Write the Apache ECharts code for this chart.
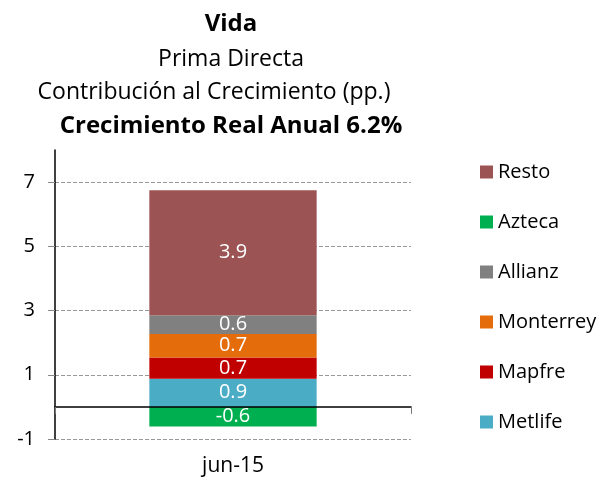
<!DOCTYPE html>
<html>
<head>
<meta charset="utf-8">
<script src="https://cdn.jsdelivr.net/npm/echarts@6/dist/echarts.min.js"></script>
<style>
  html, body { margin: 0; padding: 0; background: #fff; }
  #chart { width: 605px; height: 481px; }
</style>
</head>
<body>
<div id="chart"></div>
<script>
  // datos
  var categories = ['jun-15'];
  var seriesNames = ['Metlife', 'Mapfre', 'Monterrey', 'Allianz', 'Azteca', 'Resto'];
  var metlife = [0.88];
  var mapfre = [0.66];
  var monterrey = [0.73];
  var allianz = [0.58];
  var azteca = [-0.61];
  var resto = [3.9];
  var legendOrder = ['Resto', 'Azteca', 'Allianz', 'Monterrey', 'Mapfre', 'Metlife'];
  var yTicks = [-1, 1, 3, 5, 7];

  var colors = {
    Metlife: '#4BACC6',
    Mapfre: '#C00000',
    Monterrey: '#E46C0A',
    Allianz: '#808080',
    Azteca: '#00B050',
    Resto: '#9B5353'
  };
  var values = {
    Metlife: metlife, Mapfre: mapfre, Monterrey: monterrey,
    Allianz: allianz, Azteca: azteca, Resto: resto
  };

  var FONT = '"Open Sans", "Noto Sans", sans-serif';

  var chart = echarts.init(document.getElementById('chart'), null, { renderer: 'canvas' });

  var series = seriesNames.map(function (n) {
    return {
      name: n,
      type: 'bar',
      stack: 'total',
      barWidth: '47%',
      data: values[n],
      itemStyle: { color: colors[n] },
      label: {
        show: true,
        position: 'inside',
        color: '#fff',
        fontSize: 20,
        fontFamily: FONT,
        formatter: function (p) { return p.value.toFixed(1); }
      }
    };
  });

  // lineas del titulo
  var titleLines = [
    { text: 'Vida', x: 231, y: 24, size: 24, bold: true },
    { text: 'Prima Directa', x: 231, y: 59, size: 23, bold: false },
    { text: 'Contribución al Crecimiento (pp.)', x: 214, y: 92, size: 23, bold: false },
    { text: 'Crecimiento Real Anual 6.2%', x: 231, y: 126, size: 24, bold: true }
  ];

  var option = {
    backgroundColor: '#fff',
    animation: false,
    graphic: titleLines.map(function (t) {
      return {
        type: 'text',
        x: t.x,
        y: t.y,
        style: {
          text: t.text,
          textAlign: 'center',
          textVerticalAlign: 'middle',
          fill: '#000',
          font: (t.bold ? 'bold ' : '') + t.size + 'px ' + FONT
        }
      };
    }),
    legend: {
      orient: 'vertical',
      left: 480,
      top: 162,
      padding: 0,
      itemWidth: 13,
      itemHeight: 13,
      itemGap: 30,
      icon: 'rect',
      data: legendOrder,
      textStyle: { fontSize: 20, lineHeight: 20, color: '#000', fontFamily: FONT }
    },
    grid: { left: 55, right: 194, top: 150, bottom: 42, containLabel: false, outerBoundsMode: 'none' },
    xAxis: [{
      type: 'category',
      data: categories,
      z: 5,
      axisLine: { onZero: true, lineStyle: { color: '#000', width: 1.5 } },
      axisTick: { show: true, length: 7, lineStyle: { color: '#777' } },
      axisLabel: { show: false }
    }, {
      type: 'category',
      data: categories,
      position: 'bottom',
      axisLine: { show: false, onZero: false },
      axisTick: { show: false },
      axisLabel: { margin: 16, fontSize: 21, lineHeight: 22, color: '#000', fontFamily: FONT }
    }],
    yAxis: {
      type: 'value',
      min: -1,
      max: 8,
      interval: 2,
      axisLine: { show: true, lineStyle: { color: '#000', width: 1.5 } },
      axisTick: { show: true, length: 7, customValues: yTicks, lineStyle: { color: '#888' } },
      axisLabel: {
        margin: 20,
        fontSize: 20,
        color: '#000',
        fontFamily: FONT,
        customValues: yTicks
      },
      splitLine: {
        show: true,
        lineStyle: { color: '#999', type: 'dashed', width: 1 }
      }
    },
    series: series
  };

  chart.setOption(option);
</script>
</body>
</html>
